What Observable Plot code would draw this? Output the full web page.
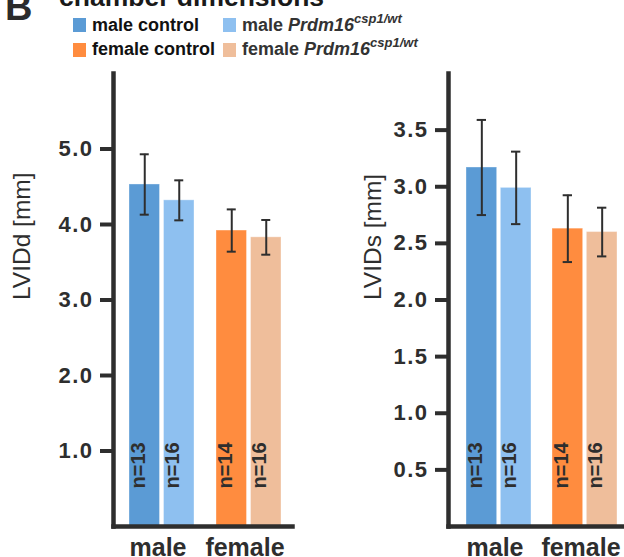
<!DOCTYPE html>
<html>
<head>
<meta charset="utf-8">
<script src="https://cdn.jsdelivr.net/npm/d3@7"></script>
<script src="https://cdn.jsdelivr.net/npm/@observablehq/plot@0.6"></script>
<style>
  html, body { margin: 0; padding: 0; background: #fff; }
  #wrap { position: relative; width: 624px; height: 557px; overflow: hidden; font-family: "Liberation Sans", Arial, sans-serif; }
  #wrap svg { position: absolute; top: 0; }
  .t { position: absolute; white-space: nowrap; line-height: 1; font-weight: bold; z-index: 2; }
  .sw { position: absolute; width: 13px; height: 14px; z-index: 2; }
  .sup { font-style: italic; font-size: 13px; position: relative; top: -8px; }
  g[aria-label="y-axis tick label"] text { letter-spacing: 1.5px; font-weight: bold; }
  g[aria-label="ylabel"] text { letter-spacing: 3px; }
</style>
</head>
<body>
<div id="wrap">
  <div class="t" style="left:5px; top:-12px; font-size:38px; color:#2b2b2b;">B</div>
  <div class="t" style="left:59px; top:-16px; font-size:26.5px; color:#1a1a1a;">chamber dimensions</div>
  <div id="legend"></div>
</div>
<script>
// ---- data ----
const sexes = ["male", "female"];
const genotypes = ["control", "Prdm16 csp1/wt"];
const seriesKeys = ["male control", "male Prdm16 csp1/wt", "female control", "female Prdm16 csp1/wt"];
const seriesColors = ["#5b9bd5", "#8ec0f0", "#ff8c3f", "#efbe9b"];

const nControl = [13, 14];
const nMutant = [16, 16];

const lviddControl = [4.53, 3.92];
const lviddControlSD = [0.40, 0.28];
const lviddMutant = [4.32, 3.83];
const lviddMutantSD = [0.265, 0.23];
const lviddTicks = [1.0, 2.0, 3.0, 4.0, 5.0];

const lvidsControl = [3.17, 2.63];
const lvidsControlSD = [0.42, 0.295];
const lvidsMutant = [2.99, 2.60];
const lvidsMutantSD = [0.32, 0.215];
const lvidsTicks = [0.5, 1.0, 1.5, 2.0, 2.5, 3.0, 3.5];

function rows(ctrl, ctrlSD, mut, mutSD) {
  const out = [];
  sexes.forEach((s, i) => {
    out.push({sex: s, geno: genotypes[0], series: s + " control", mean: ctrl[i], sd: ctrlSD[i], n: nControl[i]});
    out.push({sex: s, geno: genotypes[1], series: s + " Prdm16 csp1/wt", mean: mut[i], sd: mutSD[i], n: nMutant[i]});
  });
  return out;
}

const ink = "#2e2e2e";

function panel({width, ml, mr, yMax, ticks, label, labelDx, pi, po, align, data}) {
  const band = d3.scaleBand(sexes, [ml, width - mr]).paddingInner(pi).paddingOuter(po).align(align);
  const bw = band.bandwidth();
  const gap = 4;
  const barW = (bw - gap) / 2;
  const off = (bw - barW) / 2;
  const cap = 4.5;
  const ctrl = data.filter(d => d.geno === genotypes[0]);
  const mut = data.filter(d => d.geno === genotypes[1]);
  const lo = d => d.mean - d.sd, hi = d => d.mean + d.sd;
  const errMarks = (arr, dx, capL, capR) => [
    Plot.ruleX(arr, {x: "sex", y1: lo, y2: hi, dx, stroke: ink, strokeWidth: 2}),
    Plot.tickY(arr, {x: "sex", y: hi, insetLeft: capL, insetRight: capR, stroke: ink, strokeWidth: 2}),
    Plot.tickY(arr, {x: "sex", y: lo, insetLeft: capL, insetRight: capR, stroke: ink, strokeWidth: 2})
  ];
  const nText = (arr, dx) => Plot.text(arr, {
    x: "sex", frameAnchor: "bottom", text: d => "n=" + d.n, rotate: -90, textAnchor: "start",
    dx, dy: -38, fontSize: 20, fontWeight: "bold", fill: ink
  });
  return Plot.plot({
    width, height: 557,
    marginLeft: ml, marginRight: mr, marginTop: 73, marginBottom: 31,
    style: {fontFamily: "'Liberation Sans', Arial, sans-serif", background: "transparent", color: ink, overflow: "visible"},
    x: {domain: sexes, paddingInner: pi, paddingOuter: po, align, axis: null},
    y: {domain: [0, yMax], axis: null},
    color: {domain: seriesKeys, range: seriesColors},
    marks: [
      Plot.barY(ctrl, {x: "sex", y: "mean", fill: "series", insetRight: bw - barW, stroke: "white", strokeOpacity: 0.35, strokeWidth: 1}),
      Plot.barY(mut, {x: "sex", y: "mean", fill: "series", insetLeft: bw - barW, stroke: "white", strokeOpacity: 0.35, strokeWidth: 1}),
      ...errMarks(ctrl, -off, barW / 2 - cap, bw - barW / 2 - cap),
      ...errMarks(mut, off, bw - barW / 2 - cap, barW / 2 - cap),
      nText(ctrl, -off),
      nText(mut, off),
      Plot.axisY({ticks, tickFormat: d3.format(".1f"), tickSize: 13, tickPadding: 7, strokeWidth: 4, fontSize: 22, fontWeight: "bold", color: ink, label: null}),
      Plot.axisX({tickSize: 0, tickPadding: 12, fontSize: 25, fontWeight: "bold", color: ink, dx: -4, label: null}),
      Plot.text([label], {frameAnchor: "left", text: d => d, rotate: -90, dx: labelDx, fontSize: 24.5, fill: ink, ariaLabel: "ylabel"}),
      Plot.frame({anchor: "left", stroke: ink, strokeWidth: 4.5, strokeLinecap: "square"}),
      Plot.frame({anchor: "bottom", stroke: ink, strokeWidth: 4.5, strokeLinecap: "square"})
    ]
  });
}

const wrap = document.getElementById("wrap");

const left = panel({
  width: 310, ml: 113, mr: 18, yMax: 6, ticks: lviddTicks, label: "LVIDd [mm]", labelDx: -91.5,
  pi: 0.253, po: 0.155, align: 0.593, data: rows(lviddControl, lviddControlSD, lviddMutant, lviddMutantSD)
});
left.style.left = "0px";
wrap.appendChild(left);

const right = panel({
  width: 314, ml: 138, mr: 0, yMax: 4, ticks: lvidsTicks, label: "LVIDs [mm]", labelDx: -75.5,
  pi: 0.248, po: 0.147, align: 0.70, data: rows(lvidsControl, lvidsControlSD, lvidsMutant, lvidsMutantSD)
});
right.style.left = "310px";
wrap.appendChild(right);

// ---- legend ----
const legend = document.getElementById("legend");
const legendItems = [
  {key: seriesKeys[0], sex: "male", geno: false, col: 0, row: 0},
  {key: seriesKeys[1], sex: "male", geno: true, col: 1, row: 0},
  {key: seriesKeys[2], sex: "female", geno: false, col: 0, row: 1},
  {key: seriesKeys[3], sex: "female", geno: true, col: 1, row: 1}
];
const colX = [73, 223], rowY = [18.3, 42.5], textTop = [15.5, 39.8];
legendItems.forEach(it => {
  const sw = document.createElement("div");
  sw.className = "sw";
  sw.style.left = colX[it.col] + "px";
  sw.style.top = rowY[it.row] + "px";
  sw.style.background = seriesColors[seriesKeys.indexOf(it.key)];
  legend.appendChild(sw);
  const t = document.createElement("div");
  t.className = "t";
  t.style.left = (colX[it.col] + 19) + "px";
  t.style.top = textTop[it.row] + "px";
  t.style.fontSize = "18px";
  if (it.geno) {
    t.style.color = "#333";
    t.innerHTML = it.sex + ' <i>Prdm16</i><span class="sup">csp1/wt</span>';
  } else {
    t.style.color = "#111";
    t.textContent = it.sex + " control";
  }
  legend.appendChild(t);
});
</script>
</body>
</html>
